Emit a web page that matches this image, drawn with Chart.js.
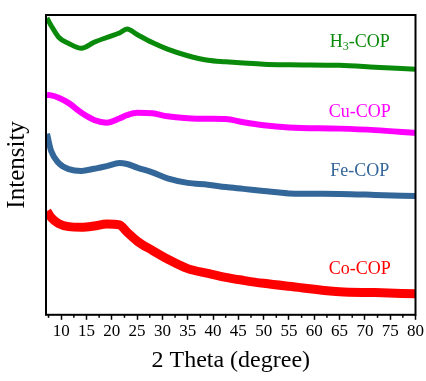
<!DOCTYPE html>
<html>
<head>
<meta charset="utf-8">
<script src="https://cdn.jsdelivr.net/npm/chart.js@4"></script>
<style>
  html, body { margin: 0; padding: 0; background: #fff; }
  #wrap { width: 426px; height: 381px; }
</style>
</head>
<body>
<div id="wrap"><canvas id="xrdChart" width="426" height="381"></canvas></div>
<script>
const TWO_THETA = [7.2, 8, 9.5, 11.5, 14, 16.5, 19, 21.5, 23, 25, 28, 31, 35, 39, 42.5, 46, 50, 55, 65, 72, 80];

// intensity (a.u., stacked/offset as in the figure)
const H3_COP = [99, 96.5, 92.6, 90.5, 88.9, 90.9, 92.5, 94, 95.3, 93.5, 90.8, 88.6, 86.4, 84.9, 84.4, 84, 83.6, 83.4, 83.2, 82.6, 81.9];
const CU_COP = [73.3, 73.2, 72.4, 70.6, 67.4, 65, 64.1, 65.5, 66.6, 67.4, 67.2, 66.2, 65.6, 65.4, 65.3, 64.2, 63.2, 62.5, 62.1, 61.6, 60.7];
const FE_COP = [60.4, 54.7, 50.6, 48.6, 48, 48.7, 49.6, 50.6, 50.3, 49.1, 47.5, 45.5, 44, 43.4, 42.6, 42, 41.3, 40.5, 40.3, 40, 39.6];
const CO_COP = [34.6, 32.5, 30.4, 29.4, 29.2, 29.6, 30.3, 30, 27.6, 24.6, 21.5, 18.6, 15.4, 13.8, 12.5, 11.5, 10.5, 9.5, 7.7, 7.4, 7.0];

const SERIES_NAMES = ['H3-COP', 'Cu-COP', 'Fe-COP', 'Co-COP'];

// axis ticks
const X_TICKS = [10, 15, 20, 25, 30, 35, 40, 45, 50, 55, 60, 65, 70, 75, 80];
const X_MINOR_TICKS = [7.5, 12.5, 17.5, 22.5, 27.5, 32.5, 37.5, 42.5, 47.5, 52.5, 57.5, 62.5, 67.5, 72.5, 77.5];

const SERIF = "'Liberation Serif', 'Times New Roman', serif";
const COLORS = ['#0a8a0a', '#ff00ff', '#336699', '#ff0000'];
const WIDTHS = [5, 6, 6, 9];

// where each sample name sits, in data units
const NAME_X = 69;
const NAME_Y = [90.9, 67.5, 48, 15.1];

const toPoints = (vals) => TWO_THETA.map((x, i) => ({ x: x, y: vals[i] }));

// frame, minor ticks and sample names
const overlay = {
  id: 'overlay',
  afterDraw(chart) {
    const { ctx, chartArea: a, scales: { x, y } } = chart;
    ctx.save();
    ctx.strokeStyle = '#000';
    ctx.lineWidth = 1.5;
    X_MINOR_TICKS.forEach(v => {
      const px = x.getPixelForValue(v);
      ctx.beginPath();
      ctx.moveTo(px, a.bottom);
      ctx.lineTo(px, a.bottom + 3);
      ctx.stroke();
    });
    ctx.lineWidth = 2;
    ctx.strokeRect(a.left, a.top, a.right - a.left, a.bottom - a.top);

    ctx.textBaseline = 'middle';
    SERIES_NAMES.forEach((name, i) => {
      const cx = x.getPixelForValue(NAME_X);
      const cy = y.getPixelForValue(NAME_Y[i]);
      ctx.fillStyle = COLORS[i];
      if (name.startsWith('H3')) {
        // subscript 3
        ctx.font = `18px ${SERIF}`;
        const wH = ctx.measureText('H').width;
        const wRest = ctx.measureText('-COP').width;
        ctx.font = `12px ${SERIF}`;
        const w3 = ctx.measureText('3').width;
        let px = cx - (wH + w3 + wRest) / 2;
        ctx.textAlign = 'left';
        ctx.font = `18px ${SERIF}`;
        ctx.fillText('H', px, cy);
        px += wH;
        ctx.font = `12px ${SERIF}`;
        ctx.fillText('3', px, cy + 5);
        px += w3;
        ctx.font = `18px ${SERIF}`;
        ctx.fillText('-COP', px, cy);
      } else {
        ctx.font = `18px ${SERIF}`;
        ctx.textAlign = 'center';
        ctx.fillText(name, cx, cy);
      }
    });
    ctx.restore();
  }
};

const ctx = document.getElementById('xrdChart').getContext('2d');

new Chart(ctx, {
  type: 'line',
  data: {
    datasets: [H3_COP, CU_COP, FE_COP, CO_COP].map((vals, i) => ({
      label: SERIES_NAMES[i],
      data: toPoints(vals),
      borderColor: COLORS[i],
      backgroundColor: COLORS[i],
      borderWidth: WIDTHS[i],
      pointRadius: 0,
      cubicInterpolationMode: 'monotone',
      fill: false
    }))
  },
  options: {
    responsive: false,
    animation: false,
    layout: { padding: { top: 15, left: 2, right: 2, bottom: 6 } },
    plugins: {
      legend: { display: false },
      tooltip: { enabled: false }
    },
    scales: {
      x: {
        type: 'linear',
        min: 7,
        max: 80,
        afterBuildTicks: (axis) => { axis.ticks = X_TICKS.map(v => ({ value: v })); },
        grid: { drawOnChartArea: false, drawTicks: true, tickLength: 5, tickWidth: 1.5, color: '#000' },
        border: { display: false },
        ticks: {
          color: '#000',
          padding: 2,
          maxRotation: 0,
          autoSkip: false,
          font: { family: SERIF, size: 17 }
        },
        title: {
          display: true,
          text: '2 Theta (degree)',
          color: '#000',
          padding: { top: 2, bottom: 0 },
          font: { family: SERIF, size: 24 }
        }
      },
      y: {
        min: 0,
        max: 100,
        grid: { display: false },
        border: { display: false },
        ticks: { display: false },
        title: {
          display: true,
          text: 'Intensity',
          color: '#000',
          padding: { top: 0, bottom: 6 },
          font: { family: SERIF, size: 25 }
        }
      }
    }
  },
  plugins: [overlay]
});
</script>
</body>
</html>
